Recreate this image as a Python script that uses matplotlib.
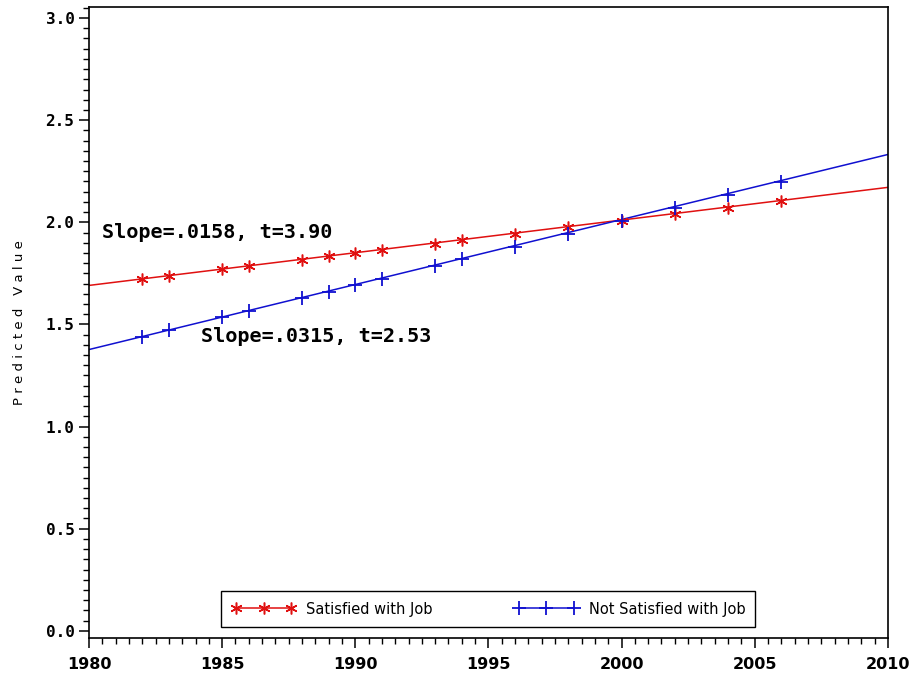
import matplotlib.pyplot as plt
from matplotlib.ticker import MultipleLocator

# fitted line end points
fit_years = [1980, 2010]
sat_fit = [1.691, 2.171]
notsat_fit = [1.377, 2.332]

# predicted values at the survey years
years = [1982, 1983, 1985, 1986, 1988, 1989, 1990, 1991, 1993, 1994,
         1996, 1998, 2000, 2002, 2004, 2006]
sat_pred = [1.723, 1.738, 1.770, 1.786, 1.817, 1.833, 1.849, 1.865, 1.896,
            1.912, 1.944, 1.975, 2.007, 2.039, 2.070, 2.102]
notsat_pred = [1.440, 1.472, 1.535, 1.566, 1.629, 1.661, 1.692, 1.724, 1.787,
               1.818, 1.881, 1.944, 2.007, 2.070, 2.133, 2.196]

x_ticks = [1980, 1985, 1990, 1995, 2000, 2005, 2010]
y_ticks = [0.0, 0.5, 1.0, 1.5, 2.0, 2.5, 3.0]

red = '#e01010'
blue = '#1010d0'

fig = plt.figure(figsize=(9.15, 6.83), dpi=100)
ax = fig.add_axes([0.0973, 0.066, 0.873, 0.924])

ax.plot(fit_years, sat_fit, color=red, lw=1.1)
ax.plot(fit_years, notsat_fit, color=blue, lw=1.1)
ax.plot(years, sat_pred, ls='none', marker=(6, 2, 0), ms=8.5, mew=1.1, color=red)
ax.plot(years, notsat_pred, ls='none', marker='+', ms=10, mew=1.3, color=blue)

# legend proxies
ax.plot([], [], color=red, lw=1.1, marker=(6, 2, 0), ms=8.5, mew=1.1,
        label='Satisfied with Job')
ax.plot([], [], color=blue, lw=1.1, marker='+', ms=10, mew=1.3,
        label='Not Satisfied with Job')
leg = ax.legend(loc='lower center', ncol=2, numpoints=3, handlelength=4.4,
                fancybox=False, edgecolor='black', framealpha=1,
                fontsize=10.5, columnspacing=5.6, borderpad=0.7,
                bbox_to_anchor=(0.5, 0.013), handletextpad=0.7,
                borderaxespad=0.2)
leg.get_frame().set_linewidth(1.0)

ax.text(1980.5, 1.95, 'Slope=.0158, t=3.90', family='DejaVu Sans Mono',
        weight='bold', fontsize=14.5, va='center')
ax.text(1984.2, 1.44, 'Slope=.0315, t=2.53', family='DejaVu Sans Mono',
        weight='bold', fontsize=14.5, va='center')

ax.set_xlim(1980, 2010)
ax.set_ylim(-0.035, 3.055)
ax.set_xticks(x_ticks)
ax.set_yticks(y_ticks)
ax.set_yticklabels(['%.1f' % v for v in y_ticks], family='DejaVu Sans Mono',
                   weight='bold', fontsize=11.5)
ax.set_xticklabels([str(v) for v in x_ticks], weight='bold', fontsize=11.5)
ax.xaxis.set_minor_locator(MultipleLocator(0.5))
ax.yaxis.set_minor_locator(MultipleLocator(0.05))
ax.tick_params(which='major', direction='out', length=7, width=1.1, color='black')
ax.tick_params(which='minor', direction='out', length=4, width=1.0, color='black')
ax.tick_params(axis='x', pad=7)
for s in ax.spines.values():
    s.set_linewidth(1.2)

ax.set_ylabel('P r e d i c t e d   V a l u e', fontsize=9.5, labelpad=14)

fig.savefig('out.png', dpi=100)
